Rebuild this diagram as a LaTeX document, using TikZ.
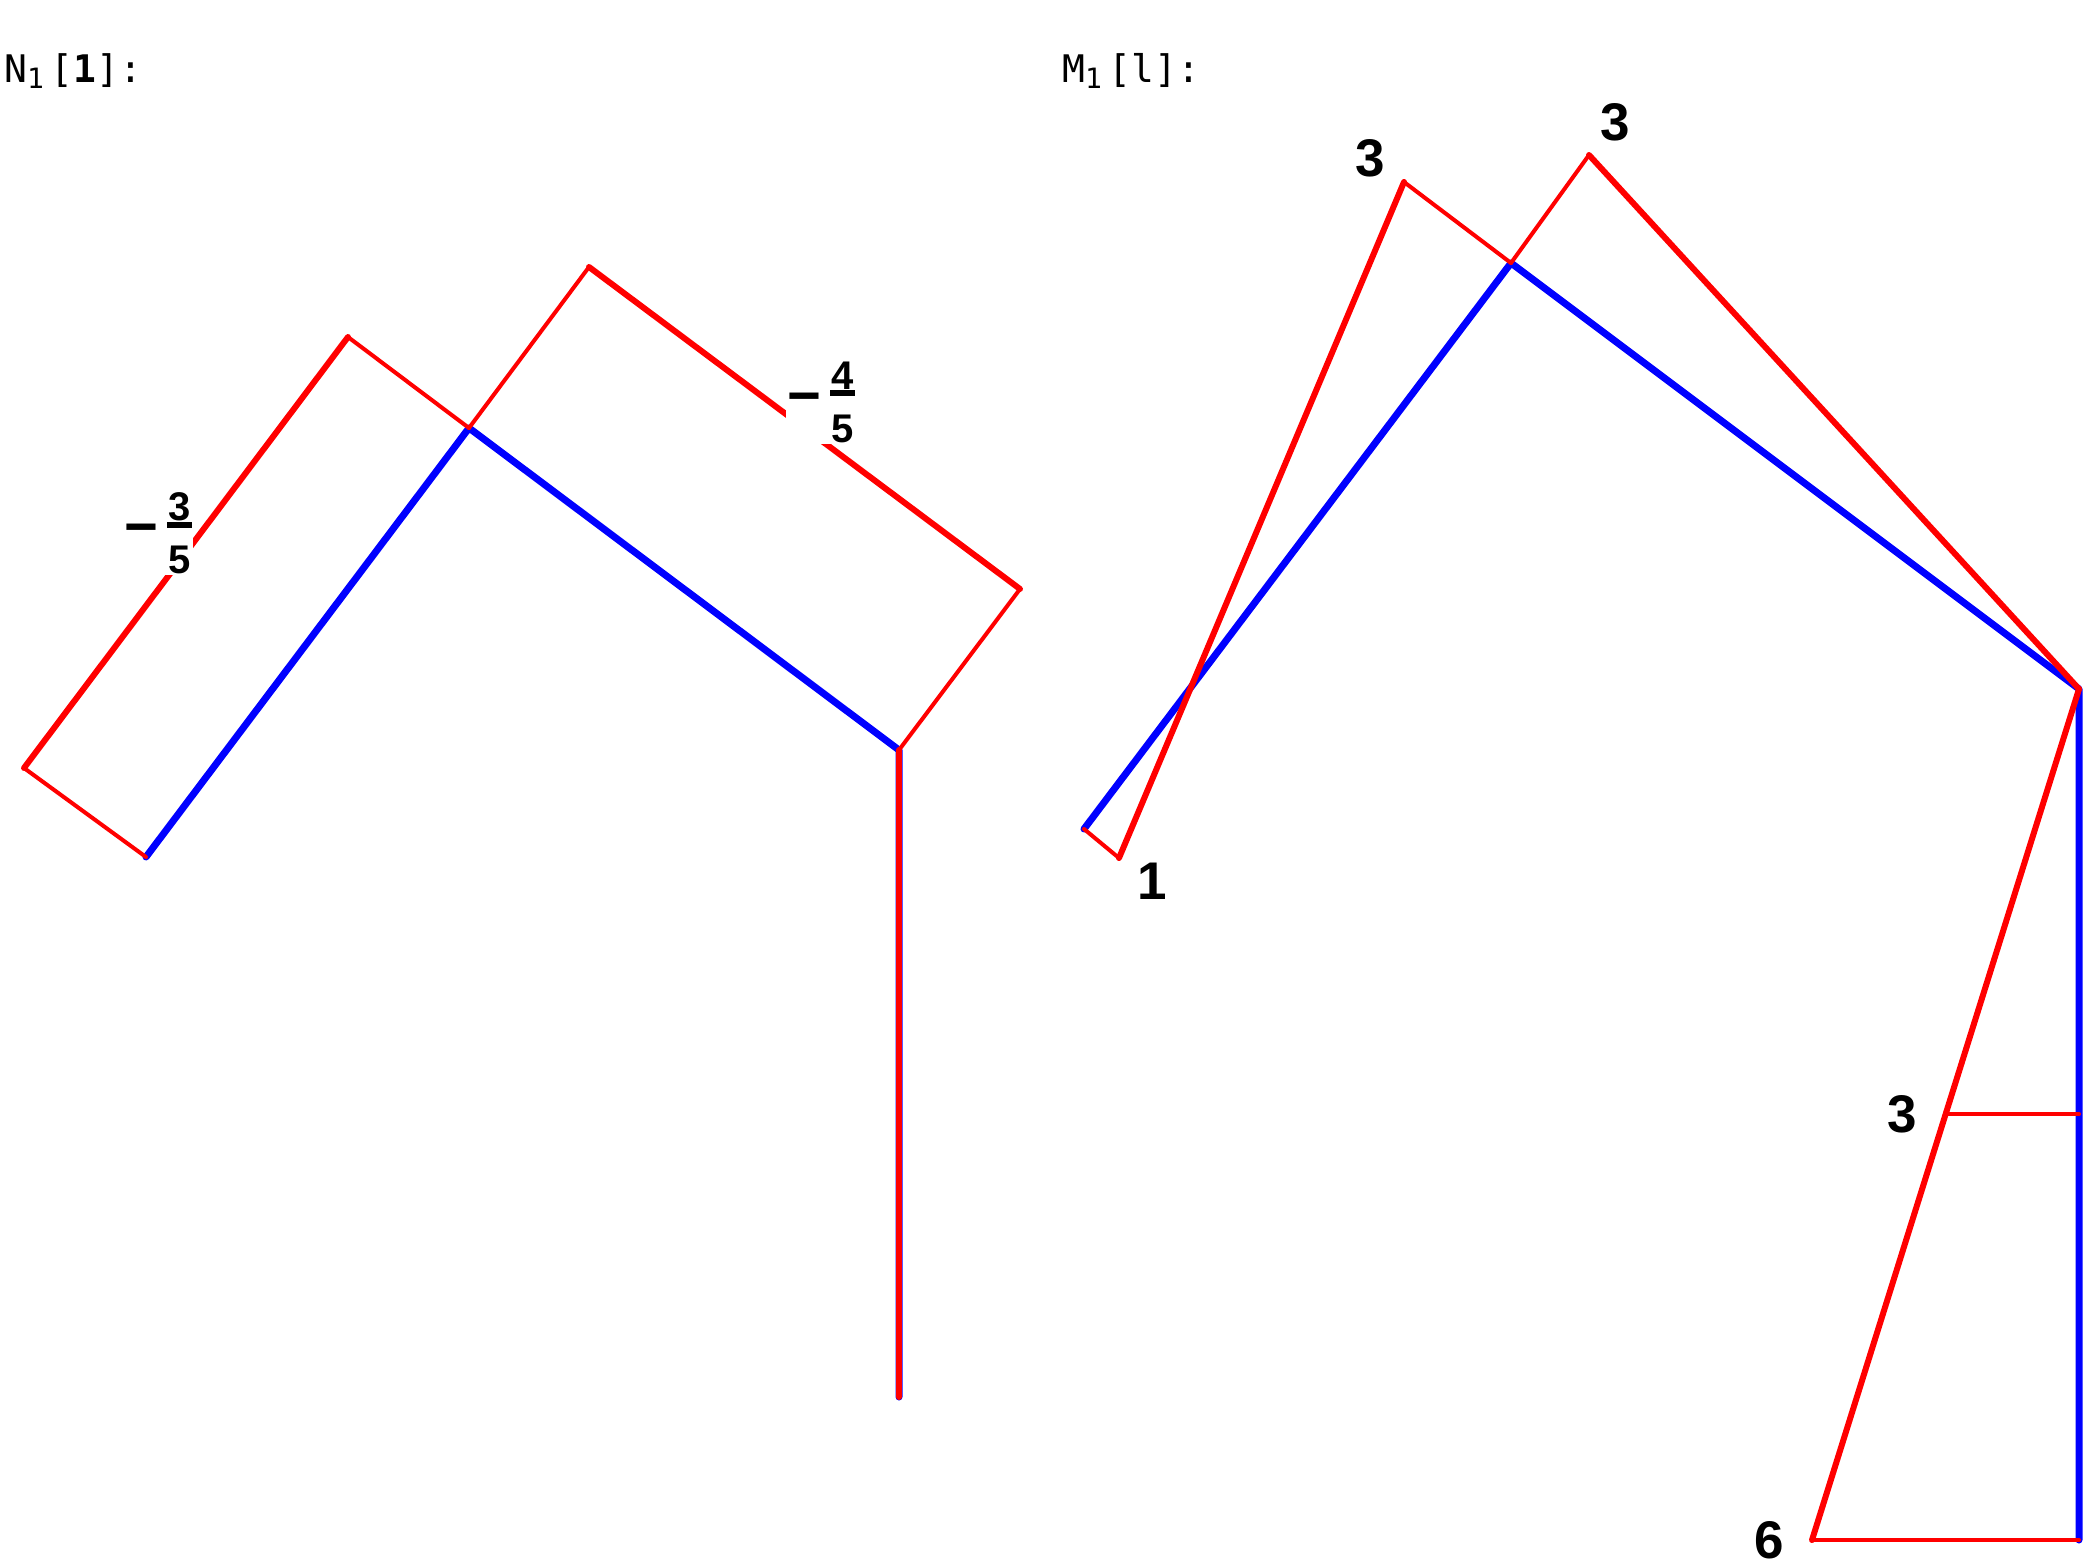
\documentclass[tikz,border=0pt]{standalone}
\usepackage{fontspec}
\setmainfont{Liberation Sans}
\newfontfamily\monofont{DejaVu Sans Mono}
\newcommand{\fracdigit}[1]{\hbox to 25pt{\hss\vrule height 28pt depth 0pt width 0pt #1\hss}}
\newcommand{\negfrac}[2]{%
  \raisebox{27pt}{\fontsize{58}{58}\selectfont −}\kern9pt%
  \vbox{\fracdigit{#1}\kern1pt\hrule height 6pt width 25pt\kern18pt\fracdigit{#2}}}
\begin{document}
\begin{tikzpicture}[x=1pt,y=-1pt,
  bl/.style={draw=blue,line width=7pt,line cap=round,line join=round},
  rthick/.style={draw=red,line width=6pt,line cap=round},
  rthin/.style={draw=red,line width=4pt,line cap=round},
  num/.style={font=\fontsize{53}{53}\selectfont\bfseries,inner sep=0pt},
  fraclab/.style={fill=white,inner sep=1pt,font=\fontsize{40}{40}\selectfont\bfseries},
  ttl/.style={font=\monofont\fontsize{38}{40}\selectfont,anchor=base west,inner sep=0pt}]
\useasboundingbox (0,0) rectangle (2083,1566);
% titles
\node[ttl] (tN) at (4,82) {N\raisebox{-6pt}{\fontsize{28}{28}\selectfont 1}\kern7pt[\textbf{1}]:};
\node[ttl] (tM) at (1062,82) {M\raisebox{-6pt}{\fontsize{28}{28}\selectfont 1}\kern7pt[l]:};
% left diagram vertices
\coordinate (a1) at (146,857);
\coordinate (a2) at (469,428);
\coordinate (a3) at (899,750);
\coordinate (a4) at (899,1397);
\coordinate (b1) at (24,768);
\coordinate (b2) at (348,337);
\coordinate (b3) at (589,267);
\coordinate (b4) at (1020,589);
% right diagram vertices
\coordinate (c1) at (1084,829);
\coordinate (c2) at (1511,263);
\coordinate (c3) at (2079,689);
\coordinate (c4) at (2079,1540);
\coordinate (d1) at (1119,858);
\coordinate (d2) at (1404,182);
\coordinate (d3) at (1589,155);
\coordinate (d4) at (1812,1540);
\coordinate (d5) at (1945.7,1114);
\coordinate (c5) at (2079,1114);
% blue
\draw[bl] (a1) -- (a2) -- (a3) -- (a4);
\draw[bl] (c1) -- (c2) -- (c3) -- (c4);
% red left
\draw[rthin] (b1) -- (a1);
\draw[rthick] (b1) -- (b2);
\draw[rthin] (b2) -- (a2);
\draw[rthin] (a2) -- (b3);
\draw[rthick] (b3) -- (b4);
\draw[rthin] (b4) -- (a3);
\draw[rthick] (a3) -- (a4);
% red right
\draw[rthin] (c1) -- (d1);
\draw[rthick] (d1) -- (d2);
\draw[rthin] (d2) -- (c2);
\draw[rthin] (c2) -- (d3);
\draw[rthick] (d3) -- (c3);
\draw[rthick] (c3) -- (d4);
\draw[rthin] (d4) -- (c4);
\draw[rthin] (d5) -- (c5);
% labels
\node[fraclab] (l1) at (158,533) {\negfrac{3}{5}};
\node[fraclab] (l2) at (821,402) {\negfrac{4}{5}};
\node[num] (n1) at (1370,158) {3};
\node[num] (n2) at (1615,122) {3};
\node[num] (n3) at (1152,881) {1};
\node[num] (n4) at (1902,1114) {3};
\node[num] (n5) at (1769,1540) {6};
\end{tikzpicture}
\end{document}
